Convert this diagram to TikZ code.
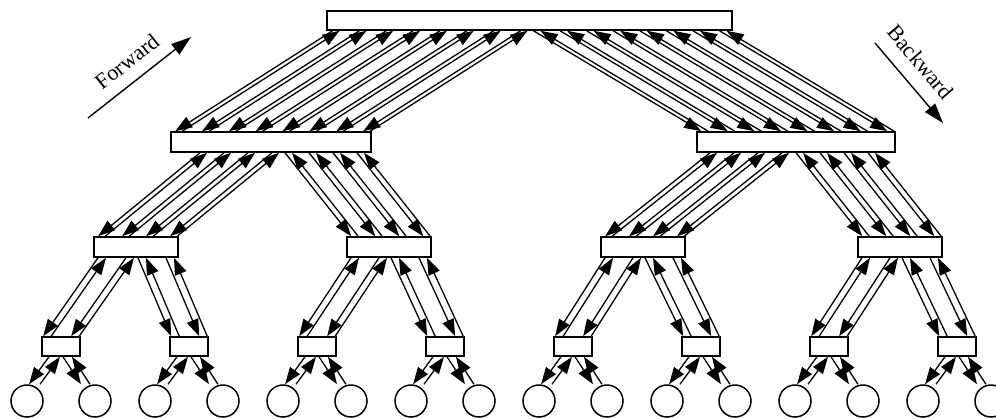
\documentclass[tikz,border=0pt]{standalone}
\usepackage{fontspec}
\setmainfont{Liberation Serif}
\usetikzlibrary{arrows.meta, calc}

\begin{document}
\begin{tikzpicture}[
        x=1pt, y=-1pt,
        bar/.style={
            rectangle,
            draw,
            line width=1.6pt,
            fill=white,
            inner sep=0pt
        },
        leaf/.style={
            circle,
            draw,
            line width=1.5pt,
            minimum size=32pt,
            inner sep=0pt
        },
        link/.style={
            -{Triangle[length=17pt, width=12pt]},
            line width=1.3pt
        },
        dirarrow/.style={
            -{Triangle[length=20pt, width=13pt]},
            line width=1.4pt
        },
        dirtext/.style={
            font=\fontsize{22}{22}\selectfont,
            inner sep=0pt
        }
    ]

        \useasboundingbox (0,0) rectangle (996,418);
        \clip (0,0) rectangle (996,418);

        % Poziomy drzewa
        \node[bar, minimum width=405pt, minimum height=19pt] (root) at (529.5,20.5) {};

        \node[bar, minimum width=200pt, minimum height=20pt] (h1) at (271,142) {};
        \node[bar, minimum width=198pt, minimum height=20pt] (h2) at (796,142) {};

        \node[bar, minimum width=84pt, minimum height=20pt] (q1) at (136,247) {};
        \node[bar, minimum width=84pt, minimum height=20pt] (q2) at (389,247) {};
        \node[bar, minimum width=84pt, minimum height=20pt] (q3) at (643,247) {};
        \node[bar, minimum width=84pt, minimum height=20pt] (q4) at (900,247) {};

        \foreach \k in {1,...,8}
            \node[bar, minimum width=38pt, minimum height=19pt] (e\k) at ({61+128*(\k-1)},346.5) {};

        % Liście
        \foreach \k in {1,...,8} {
            \pgfmathtruncatemacro{\lf}{2*\k-1}
            \pgfmathtruncatemacro{\rt}{2*\k}
            \node[leaf] (c\lf) at ({27+128*(\k-1)},401) {};
            \node[leaf] (c\rt) at ({95+128*(\k-1)},401) {};
        }

        % Wiązki strzałek między poziomami
        \foreach \src/\dst/\side/\n/\w/\m/\g/\v in {
                root/h1/0/8/200/5/7/0, root/h2/1/8/198/5/7/2,
                h1/q1/0/4/84/5/7/10, h1/q2/1/4/84/5/7/12,
                h2/q3/0/4/84/5/7/-5, h2/q4/1/4/84/5/7/-2,
                q1/e1/0/2/38/2/8/0, q1/e2/1/2/38/2/8/0,
                q2/e3/0/2/38/2/8/0, q2/e4/1/2/38/2/8/0,
                q3/e5/0/2/38/2/8/0, q3/e6/1/2/38/2/8/0,
                q4/e7/0/2/38/2/8/0, q4/e8/1/2/38/2/8/0} {
            \pgfmathsetmacro{\sp}{(\w-\g-\m)/(\n-1)}
            \pgfmathsetmacro{\sh}{(\side==0 ? -\w-2 : -\m+2)+\v}
            \foreach \i in {1,...,\n} {
                \pgfmathsetmacro{\rd}{\m+(\i-1)*\sp}
                \pgfmathsetmacro{\ru}{\rd+\g}
                \pgfmathsetmacro{\pd}{\rd+\sh}
                \pgfmathsetmacro{\pu}{\ru+\sh}
                \draw[link] ([xshift=\pd]\src.south) -- ([xshift=\rd]\dst.north west);
                \draw[link] ([xshift=\ru]\dst.north west) -- ([xshift=\pu]\src.south);
            }
        }

        % Połączenia z liśćmi
        \foreach \k in {1,...,8} {
            \pgfmathtruncatemacro{\lf}{2*\k-1}
            \pgfmathtruncatemacro{\rt}{2*\k}
            \draw[link] ([xshift=-12]e\k.south) -- ([xshift=2]c\lf.north);
            \draw[link] ([xshift=13]c\lf.north) -- ([xshift=-1]e\k.south);
            \draw[link] ([xshift=2]e\k.south) -- ([xshift=-14]c\rt.north);
            \draw[link] ([xshift=-5]c\rt.north) -- ([xshift=11]e\k.south);
        }

        % Kierunki
        \coordinate (fwdA) at (88,118);
        \coordinate (fwdB) at (191,37);
        \coordinate (bwdA) at (875,43);
        \coordinate (bwdB) at (943,123);
        \draw[dirarrow] (fwdA) -- node[dirtext, sloped, above=12pt] {Forward} (fwdB);
        \draw[dirarrow] (bwdA) -- node[dirtext, sloped, above=14pt, pos=0.42] {Backward} (bwdB);

    \end{tikzpicture}
\end{document}
